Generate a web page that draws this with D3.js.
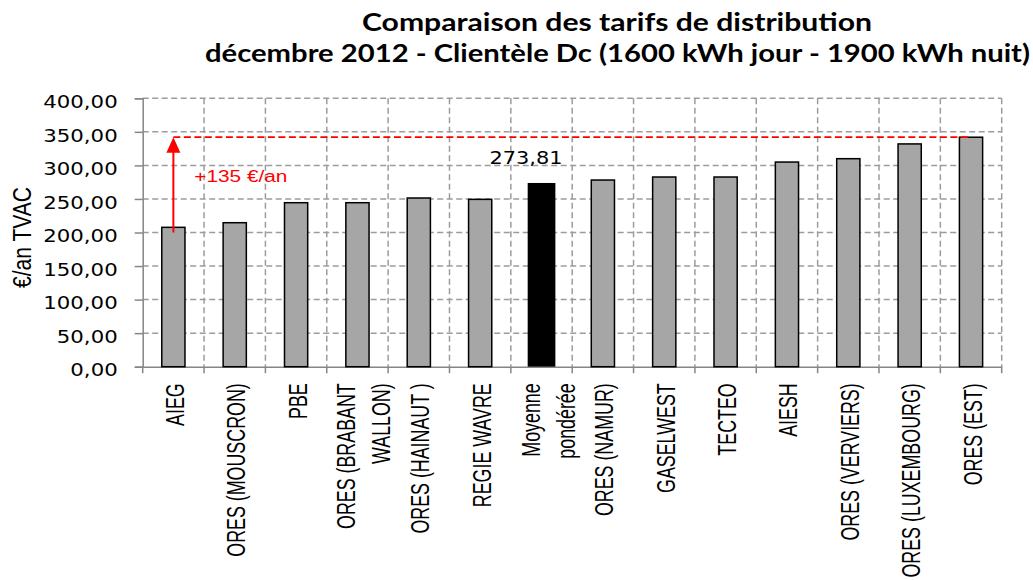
<!DOCTYPE html>
<html>
<head>
<meta charset="utf-8">
<script src="https://cdn.jsdelivr.net/npm/d3@7"></script>
<style>
  html, body { margin: 0; padding: 0; background: #fff; }
  svg { display: block; }
</style>
</head>
<body>
<div id="chart"></div>
<script>
// ---------- data ----------
const titleLines = [
  "Comparaison des tarifs de distribution",
  "décembre 2012 - Clientèle Dc (1600 kWh jour - 1900 kWh nuit)"
];
const categories = [
  "AIEG",
  "ORES (MOUSCRON)",
  "PBE",
  "ORES (BRABANT\nWALLON)",
  "ORES (HAINAUT )",
  "REGIE WAVRE",
  "Moyenne\npondérée",
  "ORES (NAMUR)",
  "GASELWEST",
  "TECTEO",
  "AIESH",
  "ORES (VERVIERS)",
  "ORES (LUXEMBOURG)",
  "ORES (EST)"
];
const values = [207.7, 214.6, 244.4, 244.4, 251.4, 249.4, 273.81, 278.2, 282.7, 282.7, 305.0, 310.0, 332.0, 342.0];
const yTicks = [0, 50, 100, 150, 200, 250, 300, 350, 400];
const yTitle = "€/an TVAC";
const averageCategory = "Moyenne\npondérée";
const averageLabel = "273,81";
const gapLabel = "+135 €/an";
const arrowStart = 200;

// ---------- layout ----------
const W = 1033, H = 580;
const plotLeft = 142.7, plotRight = 1001.7, plotTop = 98.3, plotBottom = 366.7;

const svg = d3.select("#chart").append("svg")
  .attr("width", W).attr("height", H)
  .attr("viewBox", `0 0 ${W} ${H}`);

const x = d3.scaleBand().domain(categories).range([plotLeft, plotRight]).padding(0);
const y = d3.scaleLinear().domain([0, 400]).range([plotBottom, plotTop]);
const fmt = v => d3.format(".2f")(v).replace(".", ",");

const gridColor = "#9c9c9c";
const axisColor = "#868686";

// title
const titleX = [362, 205], titleY = [30.7, 61.7], titleLen = [510, 825];
titleLines.forEach((t, i) => {
  svg.append("text")
    .attr("x", titleX[i]).attr("y", titleY[i])
    .attr("textLength", titleLen[i]).attr("lengthAdjust", "spacingAndGlyphs")
    .style("font-family", "Lato, 'Open Sans', sans-serif")
    .style("font-weight", "bold").style("font-size", "24.5px")
    .attr("fill", "#000").text(t);
});

// horizontal grid
svg.append("g").selectAll("line").data(yTicks.filter(d => d > 0)).join("line")
  .attr("x1", plotLeft).attr("x2", plotRight)
  .attr("y1", d => y(d)).attr("y2", d => y(d))
  .attr("stroke", gridColor).attr("stroke-width", 1.5)
  .attr("stroke-dasharray", "6,3.5");

// vertical grid at band boundaries
const boundaries = categories.map(c => x(c) + x.bandwidth());
svg.append("g").selectAll("line").data(boundaries).join("line")
  .attr("x1", d => d).attr("x2", d => d)
  .attr("y1", y(400)).attr("y2", y(0))
  .attr("stroke", gridColor).attr("stroke-width", 1.5)
  .attr("stroke-dasharray", "6,3.5");

// y axis
const yAxis = svg.append("g").attr("transform", `translate(${plotLeft},0)`)
  .call(d3.axisLeft(y).tickValues(yTicks).tickSize(8).tickPadding(17).tickFormat(fmt));
yAxis.select(".domain").attr("stroke", axisColor).attr("stroke-width", 1.5);
yAxis.selectAll(".tick line").attr("stroke", axisColor).attr("stroke-width", 1.5);
yAxis.selectAll(".tick text")
  .attr("dy", "0.55em")
  .style("font-family", "'DejaVu Sans', Verdana, sans-serif")
  .style("font-size", "16.9px").attr("fill", "#000")
  .each(function () {
    const L = this.getComputedTextLength();
    d3.select(this).attr("textLength", L * 1.26).attr("lengthAdjust", "spacingAndGlyphs");
  });

// x axis line and ticks
const xAxis = svg.append("g").attr("transform", `translate(0,${plotBottom})`)
  .call(d3.axisBottom(x).tickSize(0).tickFormat(""));
xAxis.select(".domain").attr("stroke", axisColor).attr("stroke-width", 1.5);
svg.append("g").selectAll("line").data([plotLeft].concat(boundaries)).join("line")
  .attr("x1", d => d).attr("x2", d => d)
  .attr("y1", plotBottom).attr("y2", plotBottom + 6.5)
  .attr("stroke", axisColor).attr("stroke-width", 1.5);

// bars
const barW = 23.2;
svg.append("g").selectAll("rect").data(categories).join("rect")
  .attr("x", (c, i) => x(c) + x.bandwidth() / 2 - (c === averageCategory ? 27.7 : barW) / 2)
  .attr("width", c => c === averageCategory ? 27.7 : barW)
  .attr("y", (c, i) => y(values[i]))
  .attr("height", (c, i) => y(0) - y(values[i]))
  .attr("fill", c => c === averageCategory ? "#000" : "#a6a6a6")
  .attr("stroke", c => c === averageCategory ? "none" : "#000")
  .attr("stroke-width", 1.5);

// x labels (rotated)
const labelTop = 383.3;
categories.forEach(c => {
  const lines = c.split("\n");
  const offs = lines.length === 1 ? [10.5] : [-2, 33];
  const cx = x(c) + x.bandwidth() / 2;
  lines.forEach((ln, j) => {
    svg.append("text")
      .attr("transform", `translate(${cx + offs[j]},${labelTop}) scale(1.32,1) rotate(-90) scale(0.91,1)`)
      .attr("text-anchor", "end")
      .style("font-family", "'Liberation Sans', Arial, sans-serif")
      .style("font-size", "19.6px").attr("fill", "#000").text(ln);
  });
});

// y title
svg.append("text")
  .attr("transform", `translate(30.7,237.5) scale(1.32,1) rotate(-90)`)
  .attr("text-anchor", "middle")
  .attr("textLength", 101).attr("lengthAdjust", "spacingAndGlyphs")
  .style("font-family", "'Liberation Sans', Arial, sans-serif")
  .style("font-size", "20px").attr("fill", "#000").text(yTitle);

// average label
const avgIdx = categories.indexOf(averageCategory);
svg.append("text")
  .attr("x", x(averageCategory) + x.bandwidth() / 2 - 15.5)
  .attr("y", y(values[avgIdx]) - 18.5)
  .attr("text-anchor", "middle")
  .attr("textLength", 73).attr("lengthAdjust", "spacingAndGlyphs")
  .style("font-family", "'DejaVu Sans', Verdana, sans-serif")
  .style("font-size", "18.5px").attr("fill", "#000").text(averageLabel);

// red dashed reference line at the max value
const firstC = categories[0], lastC = categories[categories.length - 1];
const maxV = values[values.length - 1];
const ax = x(firstC) + x.bandwidth() / 2;
svg.append("line")
  .attr("x1", ax).attr("x2", x(lastC) + x.bandwidth() / 2)
  .attr("y1", y(maxV)).attr("y2", y(maxV))
  .attr("stroke", "#ff0000").attr("stroke-width", 1.8)
  .attr("stroke-dasharray", "7,3.5");

// red arrow
const headH = 15.5, headW = 14;
svg.append("line")
  .attr("x1", ax).attr("x2", ax)
  .attr("y1", y(arrowStart)).attr("y2", y(maxV) + headH - 1)
  .attr("stroke", "#ff0000").attr("stroke-width", 2);
svg.append("path")
  .attr("d", `M${ax},${y(maxV)} L${ax - headW / 2},${y(maxV) + headH} L${ax + headW / 2},${y(maxV) + headH} Z`)
  .attr("fill", "#ff0000");

// gap label
svg.append("text")
  .attr("x", ax + 21).attr("y", 181.7)
  .attr("textLength", 93).attr("lengthAdjust", "spacingAndGlyphs")
  .style("font-family", "'Liberation Sans', Arial, sans-serif")
  .style("font-size", "16px").attr("fill", "#ff0000").text(gapLabel);
</script>
</body>
</html>
